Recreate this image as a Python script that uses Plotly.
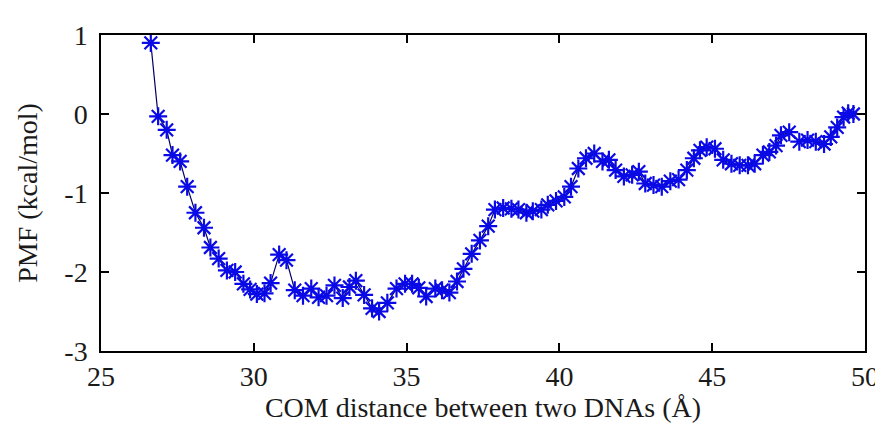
import plotly.graph_objects as go

distance = [26.63, 26.87, 27.15, 27.34, 27.59, 27.82, 28.09, 28.37, 28.58, 28.85,
            29.12, 29.39, 29.66, 29.88, 30.10, 30.35, 30.55, 30.83, 31.07, 31.34,
            31.61, 31.88, 32.12, 32.38, 32.64, 32.91, 33.13, 33.34, 33.61, 33.87,
            34.10, 34.37, 34.67, 34.95, 35.18, 35.40, 35.64, 35.94, 36.16, 36.40,
            36.65, 36.86, 37.13, 37.40, 37.67, 37.89, 38.16, 38.43, 38.66, 38.92,
            39.13, 39.41, 39.62, 39.89, 40.16, 40.38, 40.62, 40.87, 41.14, 41.41,
            41.62, 41.84, 42.11, 42.38, 42.60, 42.81, 43.08, 43.35, 43.63, 43.90,
            44.17, 44.40, 44.60, 44.82, 45.09, 45.36, 45.63, 45.90, 46.17, 46.39,
            46.66, 46.87, 47.09, 47.25, 47.52, 47.85, 48.12, 48.39, 48.66, 48.88,
            49.09, 49.30, 49.45, 49.62]
pmf = [0.90, -0.03, -0.20, -0.52, -0.60, -0.92, -1.25, -1.44, -1.69, -1.83,
       -1.98, -2.00, -2.15, -2.22, -2.28, -2.27, -2.14, -1.78, -1.85, -2.23,
       -2.30, -2.21, -2.32, -2.30, -2.17, -2.33, -2.19, -2.11, -2.29, -2.46,
       -2.50, -2.39, -2.21, -2.15, -2.15, -2.20, -2.31, -2.21, -2.23, -2.26,
       -2.12, -1.96, -1.77, -1.60, -1.42, -1.21, -1.19, -1.20, -1.21, -1.25,
       -1.23, -1.21, -1.15, -1.10, -1.05, -0.92, -0.69, -0.56, -0.50, -0.60,
       -0.58, -0.71, -0.79, -0.77, -0.73, -0.88, -0.90, -0.92, -0.85, -0.83,
       -0.71, -0.56, -0.46, -0.42, -0.44, -0.58, -0.63, -0.65, -0.65, -0.63,
       -0.52, -0.48, -0.40, -0.27, -0.23, -0.35, -0.33, -0.35, -0.38, -0.29,
       -0.17, -0.04, 0.01, 0.00]

x_ticks = [25, 30, 35, 40, 45, 50]
y_ticks = [-3, -2, -1, 0, 1]

fig = go.Figure()
fig.add_trace(go.Scatter(
    x=distance, y=pmf, mode="lines+markers",
    line=dict(color="#000066", width=1.2),
    marker=dict(symbol="asterisk-open", size=15, color="#0a0ae6",
                line=dict(color="#0a0ae6", width=2.2)),
    showlegend=False,
))

font = dict(family="Liberation Serif, Times New Roman, serif", size=28, color="#1a1a1a")
axis_common = dict(
    showgrid=False, zeroline=False, showline=True, linecolor="black", linewidth=1.5,
    mirror="ticks", ticks="inside", ticklen=8, tickwidth=1.5, tickcolor="black",
    tickfont=font,
)
fig.update_xaxes(range=[25, 50], tickvals=x_ticks, ticktext=[str(v) for v in x_ticks],
                 ticklabelstandoff=0,
                 title=dict(text="COM distance between two DNAs (Å)", font=font, standoff=0),
                 **axis_common)
fig.update_yaxes(range=[-3, 1], tickvals=y_ticks, ticktext=[str(v) for v in y_ticks],
                 ticklabelstandoff=6,
                 title=dict(text="PMF (kcal/mol)", font=font, standoff=19),
                 **axis_common)
fig.update_layout(
    width=883, height=435,
    margin=dict(l=93, r=20, t=23, b=92),
    paper_bgcolor="white", plot_bgcolor="white",
)
fig.write_html("out.html")
